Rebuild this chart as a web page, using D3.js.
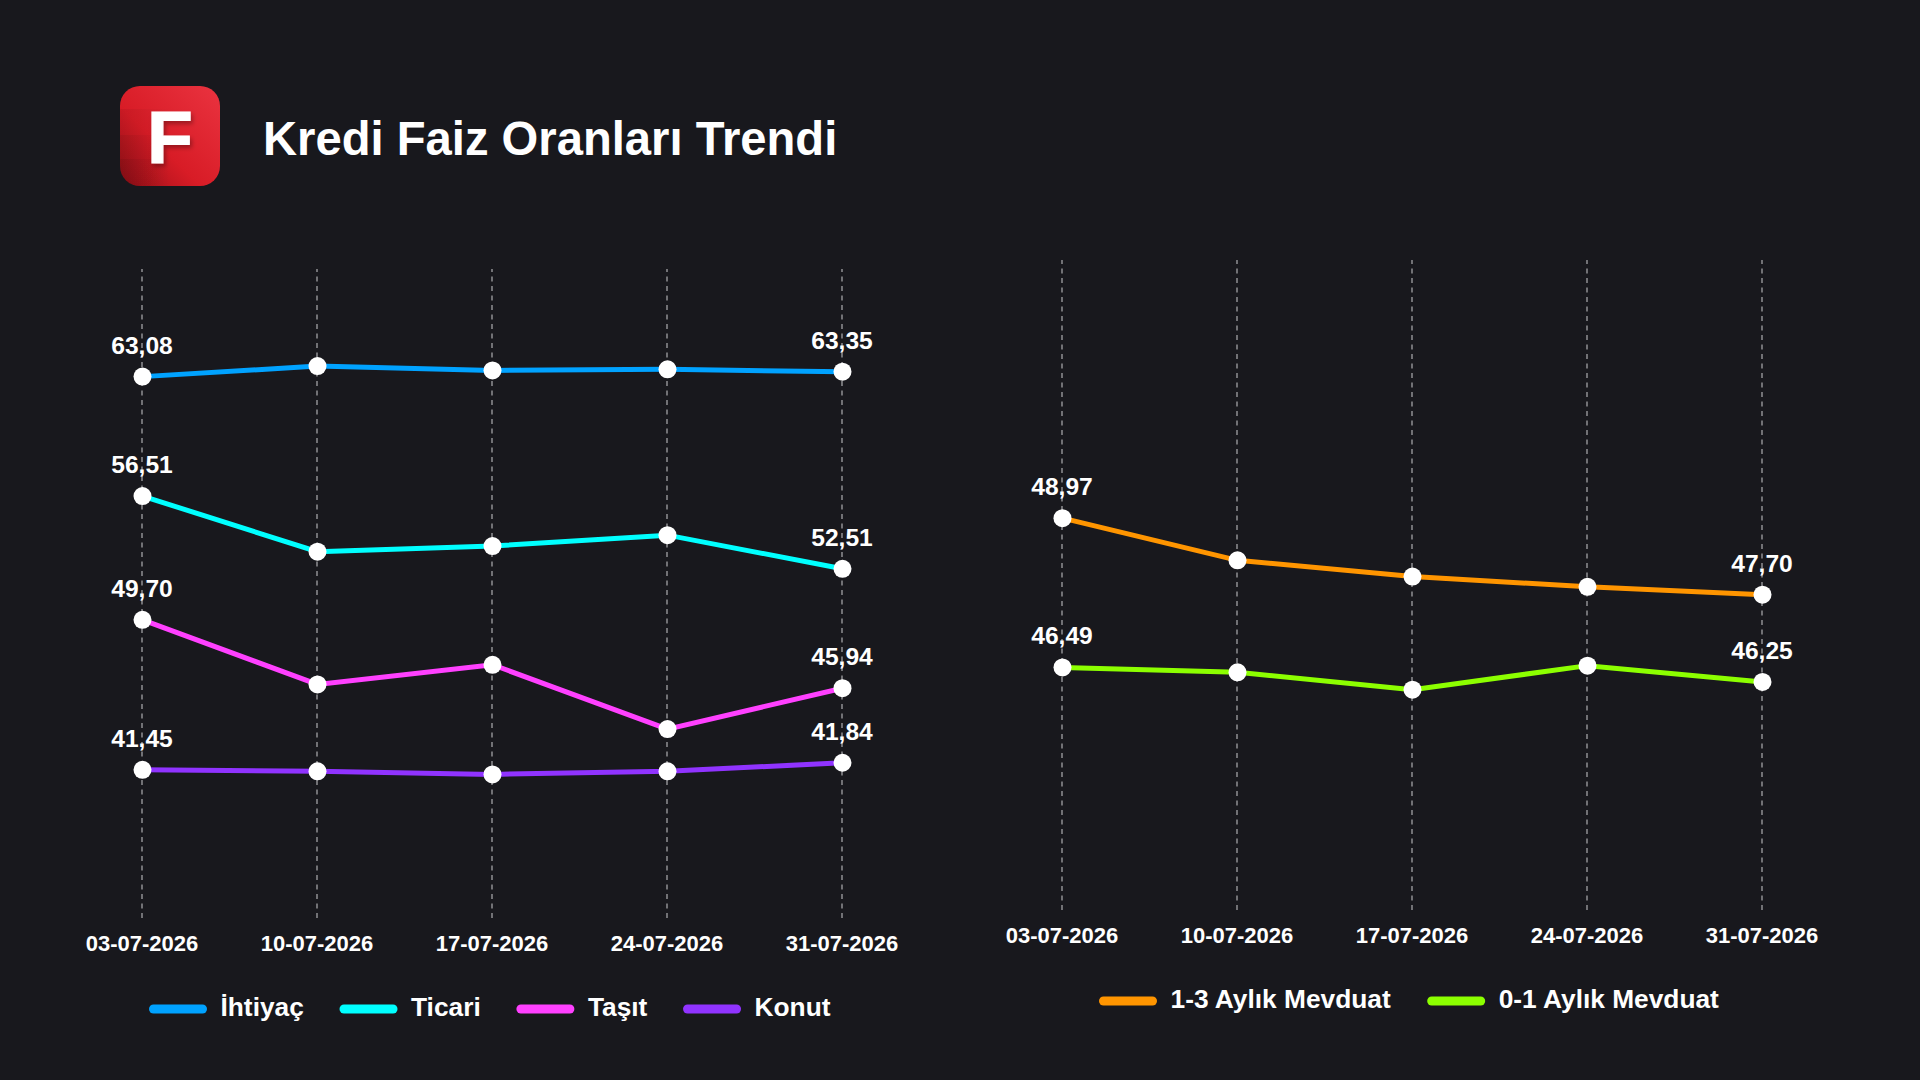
<!DOCTYPE html>
<html lang="tr">
<head>
<meta charset="utf-8">
<title>Kredi Faiz Oranları Trendi</title>
<script src="https://cdn.jsdelivr.net/npm/d3@7"></script>
<style>
  html, body { margin: 0; background: #18181d; }
  svg { display: block; font-family: "Liberation Sans", Arial, sans-serif; font-weight: 700; }
  text { fill: #fff; }
</style>
</head>
<body>
<svg id="chart" width="1920" height="1080"></svg>
<script>
const DATES = ['03-07-2026', '10-07-2026', '17-07-2026', '24-07-2026', '31-07-2026'];

const IHTIYAC = [63.08, 63.66, 63.42, 63.48, 63.35];
const TICARI = [56.51, 53.45, 53.76, 54.36, 52.51];
const TASIT = [49.70, 46.15, 47.23, 43.69, 45.94];
const KONUT = [41.45, 41.37, 41.20, 41.37, 41.84];
const MEVDUAT_1_3 = [48.97, 48.27, 48.00, 47.83, 47.70];
const MEVDUAT_0_1 = [46.49, 46.41, 46.12, 46.52, 46.25];

const svg = d3.select('#chart');
const comma = d3.format('.2f');

svg.append('rect').attr('width', 1920).attr('height', 1080).attr('fill', '#18181d');

// logo
const defs = svg.append('defs');
const grad = defs.append('linearGradient')
  .attr('id', 'logoGrad')
  .attr('x1', '0%').attr('y1', '100%')
  .attr('x2', '100%').attr('y2', '0%');
grad.append('stop').attr('offset', '0%').attr('stop-color', '#9c0f17');
grad.append('stop').attr('offset', '40%').attr('stop-color', '#d81c26');
grad.append('stop').attr('offset', '100%').attr('stop-color', '#ea3340');

const bandGrad = defs.append('linearGradient').attr('id', 'bandGrad');
bandGrad.append('stop').attr('offset', '0%').attr('stop-color', '#000').attr('stop-opacity', 0.07);
bandGrad.append('stop').attr('offset', '100%').attr('stop-color', '#000').attr('stop-opacity', 0);

defs.append('clipPath').attr('id', 'logoClip')
  .append('rect')
  .attr('x', 120).attr('y', 86)
  .attr('width', 100).attr('height', 100)
  .attr('rx', 20);

defs.append('filter').attr('id', 'logoShadow')
  .attr('x', '-30%').attr('y', '-30%').attr('width', '160%').attr('height', '160%')
  .append('feDropShadow')
  .attr('dx', 2).attr('dy', 3)
  .attr('stdDeviation', 2)
  .attr('flood-color', '#000')
  .attr('flood-opacity', 0.3);

const logo = svg.append('g').attr('clip-path', 'url(#logoClip)');
logo.append('rect')
  .attr('x', 120).attr('y', 86)
  .attr('width', 100).attr('height', 100)
  .attr('fill', 'url(#logoGrad)');
// the darker steps on the left side of the icon
[109, 135, 159].forEach(top => {
  logo.append('rect')
    .attr('x', 120).attr('y', top)
    .attr('width', 50).attr('height', 186 - top)
    .attr('fill', 'url(#bandGrad)');
});

svg.append('text')
  .attr('x', 169.8).attr('y', 163.2)
  .attr('text-anchor', 'middle')
  .attr('font-size', 75)
  .attr('stroke', '#fff')
  .attr('stroke-width', 1.2)
  .attr('filter', 'url(#logoShadow)')
  .text('F');

svg.append('text')
  .attr('x', 263).attr('y', 155)
  .attr('font-size', 47.2)
  .text('Kredi Faiz Oranları Trendi');

function drawPanel(opts) {
  const g = svg.append('g');
  const x = d3.scalePoint().domain(DATES).range(opts.xRange);
  const y = d3.scaleLinear().domain(opts.yDomain).range(opts.yRange);
  const px = i => x(DATES[i]) + 0.5;

  // gridlines are just long dashed axis ticks
  const axis = g.append('g')
    .attr('transform', `translate(0,${opts.yRange[0]})`)
    .call(d3.axisBottom(x)
      .offset(0)
      .tickSize(opts.yRange[1] - opts.yRange[0])
      .tickPadding(0)
      .tickSizeOuter(0));
  axis.select('.domain').remove();
  axis.selectAll('.tick line')
    .attr('stroke', '#7c7c80')
    .attr('stroke-width', 1.8)
    .attr('stroke-dasharray', '5 4.5');
  axis.selectAll('.tick text')
    .attr('y', 33)
    .attr('dy', 0)
    .attr('fill', '#fff')
    .attr('font-family', '"Liberation Sans", Arial, sans-serif')
    .attr('font-weight', 700)
    .attr('font-size', 22);

  const line = d3.line().x((d, i) => px(i)).y(d => y(d));

  opts.series.forEach(s => {
    g.append('path')
      .datum(s.values)
      .attr('fill', 'none')
      .attr('stroke', s.color)
      .attr('stroke-width', 5)
      .attr('d', line);
    g.selectAll(null)
      .data(s.values)
      .enter().append('circle')
      .attr('cx', (d, i) => px(i))
      .attr('cy', d => y(d))
      .attr('r', 9)
      .attr('fill', '#fff');
    // only first and last points are labelled
    g.selectAll(null)
      .data([0, s.values.length - 1])
      .enter().append('text')
      .attr('x', i => x(DATES[i]))
      .attr('y', i => y(s.values[i]) - 23)
      .attr('text-anchor', 'middle')
      .attr('font-size', 24.6)
      .text(i => comma(s.values[i]).replace('.', ','));
  });

  // legend, flows left to right
  let lx = opts.legendX;
  opts.series.forEach(s => {
    g.append('line')
      .attr('x1', lx + 4.5).attr('x2', lx + 53.5)
      .attr('y1', opts.legendY - 7).attr('y2', opts.legendY - 7)
      .attr('stroke', s.color)
      .attr('stroke-width', 9)
      .attr('stroke-linecap', 'round');
    const t = g.append('text')
      .attr('x', lx + 71.5).attr('y', opts.legendY)
      .attr('font-size', 26.3)
      .text(s.name);
    lx += 71.5 + t.node().getComputedTextLength() + opts.legendGap;
  });
}

drawPanel({
  xRange: [142, 842],
  yDomain: [33.3, 69],
  yRange: [918, 269],
  legendX: 149,
  legendY: 1016,
  legendGap: 35.7,
  series: [
    { name: 'İhtiyaç', color: '#00a2ff', values: IHTIYAC },
    { name: 'Ticari', color: '#00ffff', values: TICARI },
    { name: 'Taşıt', color: '#ff40ff', values: TASIT },
    { name: 'Konut', color: '#9033ff', values: KONUT }
  ]
});

drawPanel({
  xRange: [1062, 1762],
  yDomain: [42.46, 53.26],
  yRange: [910, 260],
  legendX: 1099,
  legendY: 1008,
  legendGap: 36.5,
  series: [
    { name: '1-3 Aylık Mevduat', color: '#ff9500', values: MEVDUAT_1_3 },
    { name: '0-1 Aylık Mevduat', color: '#8cff00', values: MEVDUAT_0_1 }
  ]
});
</script>
</body>
</html>
